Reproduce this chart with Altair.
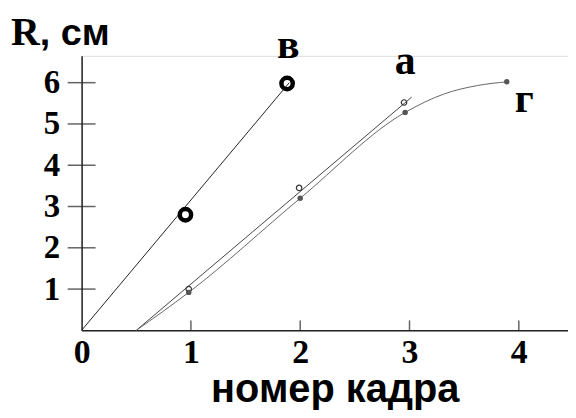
import altair as alt
import pandas as pd

# ---- data ----
x_ticks = [0, 1, 2, 3, 4]
y_ticks = [1, 2, 3, 4, 5, 6]
x_minor = [1, 2, 3, 4]

# curve "в"
v_line_x = [0.0, 1.9]
v_line_y = [0.0, 6.0]
v_pts_x = [0.95, 1.88]
v_pts_y = [2.8, 5.98]

# curve "а"
a_line_x = [0.5, 3.02]
a_line_y = [0.0, 5.65]
a_pts_x = [0.98, 1.99, 2.95]
a_pts_y = [1.0, 3.45, 5.52]

# curve "г"
g_line_x = [0.5, 0.98, 2.0, 2.96, 3.32, 3.62, 3.89]
g_line_y = [0.0, 0.92, 3.2, 5.28, 5.73, 5.93, 6.02]
g_pts_x = [0.98, 2.0, 2.96, 3.89]
g_pts_y = [0.92, 3.2, 5.28, 6.02]

labels = ["в", "а", "г"]
label_x = [1.89, 2.96, 4.05]
label_y = [6.6, 6.22, 5.28]

x_title = "номер кадра"
y_title_main = "R"
y_title_rest = ", см"

# ---- tables ----
df_v = pd.DataFrame({"x": v_line_x, "y": v_line_y})
df_vp = pd.DataFrame({"x": v_pts_x, "y": v_pts_y})
df_a = pd.DataFrame({"x": a_line_x, "y": a_line_y})
df_ap = pd.DataFrame({"x": a_pts_x, "y": a_pts_y})
df_g = pd.DataFrame({"x": g_line_x, "y": g_line_y})
df_gp = pd.DataFrame({"x": g_pts_x, "y": g_pts_y})
df_lab = pd.DataFrame({"x": label_x, "y": label_y, "t": labels})
df_yt = pd.DataFrame({"x": [0] * len(y_ticks), "y": y_ticks})
df_xt = pd.DataFrame({"x": x_minor, "y": [0] * len(x_minor)})

xs = alt.Scale(domain=[0, 4.45], nice=False, zero=False)
ys = alt.Scale(domain=[0, 6.65], nice=False, zero=False)

X = alt.X("x:Q", scale=xs, axis=alt.Axis(
    values=x_ticks, title=None, ticks=False, grid=False,
    domainColor="#222", domainWidth=1.5,
    labelFont="Liberation Serif", labelFontWeight="bold", labelFontSize=34,
    labelColor="black", labelPadding=5, labelFlush=False, labelOverlap=False,
    format="d"))
Y = alt.Y("y:Q", scale=ys, axis=alt.Axis(
    values=y_ticks, title=None, ticks=False, grid=False,
    domainColor="#222", domainWidth=1.5,
    labelFont="Liberation Serif", labelFontWeight="bold", labelFontSize=33,
    labelColor="black", labelPadding=22, labelFlush=False, labelOverlap=False,
    format="d"))

base_axes = alt.Chart(df_v).mark_line(color="#222", strokeWidth=1).encode(x=X, y=Y)

line_a = alt.Chart(df_a).mark_line(color="#444", strokeWidth=1).encode(x="x:Q", y="y:Q")
line_g = alt.Chart(df_g).mark_line(color="#666", strokeWidth=1, interpolate="monotone").encode(x="x:Q", y="y:Q")

pts_v = alt.Chart(df_vp).mark_point(shape="circle", size=130, filled=False,
                                    stroke="black", strokeWidth=4.5, opacity=1).encode(x="x:Q", y="y:Q")
pts_a = alt.Chart(df_ap).mark_point(shape="circle", size=30, filled=False,
                                    stroke="#333", strokeWidth=1.2, opacity=1).encode(x="x:Q", y="y:Q")
pts_g = alt.Chart(df_gp).mark_point(shape="circle", size=30, filled=True,
                                    color="#555", opacity=1).encode(x="x:Q", y="y:Q")

yticks = alt.Chart(df_yt).mark_tick(orient="horizontal", size=28, thickness=1.5,
                                    color="#222").encode(x="x:Q", y="y:Q")
xticks = alt.Chart(df_xt).mark_tick(orient="vertical", size=10, thickness=1.5,
                                    color="#222", yOffset=-5).encode(x="x:Q", y="y:Q")

lab = alt.Chart(df_lab).mark_text(font="Liberation Serif", fontWeight="bold", fontSize=42,
                                  baseline="alphabetic", align="center", color="black").encode(
    x="x:Q", y="y:Q", text="t:N")

r_main = alt.Chart(pd.DataFrame({"t": [y_title_main]})).mark_text(
    font="Liberation Serif", fontWeight="bold", fontSize=40, align="left",
    baseline="alphabetic", color="black").encode(
    x=alt.value(-71), y=alt.value(-11), text="t:N")
r_rest = alt.Chart(pd.DataFrame({"t": [y_title_rest]})).mark_text(
    font="Liberation Sans", fontWeight="bold", fontSize=38, align="left",
    baseline="alphabetic", color="black").encode(
    x=alt.value(-42), y=alt.value(-11), text="t:N")
xt = alt.Chart(pd.DataFrame({"t": [x_title]})).mark_text(
    font="Liberation Sans", fontWeight="bold", fontSize=40, align="center",
    baseline="alphabetic", color="black").encode(
    x=alt.value(255), y=alt.value(348), text="t:N")

chart = alt.layer(base_axes, line_a, line_g, pts_v, pts_a, pts_g, yticks, xticks,
                  lab, r_main, r_rest, xt).properties(
    width=489, height=276,
    autosize=alt.AutoSizeParams(type="none"),
    padding={"left": 74, "top": 47, "right": 0, "bottom": 84},
).configure_view(stroke=None).configure(background="white")

chart.save("out.html", embed_options={"renderer": "svg", "actions": False})
